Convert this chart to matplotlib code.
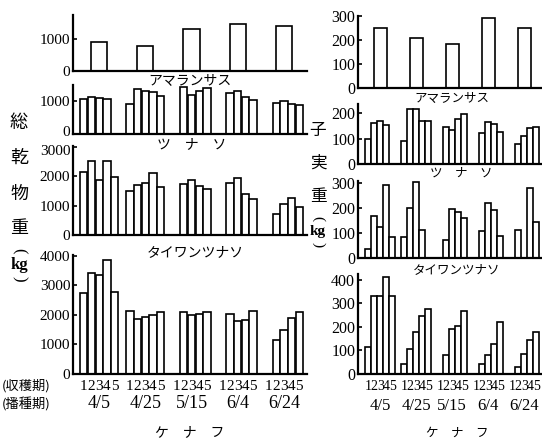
import matplotlib
matplotlib.use("Agg")
import matplotlib.pyplot as plt
from matplotlib.transforms import blended_transform_factory, ScaledTranslation

plt.rcParams['font.serif'] = ['Liberation Serif', 'DejaVu Serif']
plt.rcParams['font.family'] = ['serif', 'Noto Sans CJK JP']

# 播種期と収穫期
dates = ['4/5', '4/25', '5/15', '6/4', '6/24']
harvests = ['1', '2', '3', '4', '5']

# 総乾物重 (kg)
dry_amaranth = [905, 800, 1315, 1490, 1420]
dry_tsunaso = [[1040, 1120, 1090, 1040, None],
               [900, 1350, 1300, 1260, 1150],
               [None, 1420, 1170, 1300, 1370],
               [None, 1240, 1290, 1100, 1020],
               [None, 940, 1000, 890, 860]]
dry_taiwan = [[2130, 2525, 1870, 2525, 1980],
              [1505, 1700, 1755, 2120, 1620],
              [None, 1720, 1870, 1665, 1550],
              [None, 1780, 1930, 1395, 1225],
              [None, 710, 1050, 1250, 960]]
dry_kenaf = [[2735, 3410, 3340, 3835, 2780],
             [2140, 1855, 1910, 2000, 2090],
             [None, 2090, 1980, 2015, 2090],
             [None, 2035, 1790, 1820, 2115],
             [None, 1160, 1475, 1890, 2095]]

# 子実重 (kg)
seed_amaranth = [252, 210, 182, 293, 252]
seed_tsunaso = [[98, 163, 171, 154, None],
                [89, 217, 217, 171, 170],
                [None, 145, 135, 178, 197],
                [None, 122, 166, 159, 128],
                [None, 78, 112, 141, 147]]
seed_taiwan = [[36, 171, 124, 292, 85],
               [83, 202, 307, 112, None],
               [None, 71, 198, 186, 160],
               [None, 108, 222, 195, 90],
               [None, 112, None, 283, 145]]
seed_kenaf = [[115, 330, 330, 414, 330],
              [44, 106, 177, 245, 277],
              [None, 80, 190, 205, 268],
              [None, 44, 79, 129, 220],
              [None, 30, 86, 143, 177]]

W, H = 542, 438
fig = plt.figure(figsize=(W / 100, H / 100), dpi=100)


def make_ax(x0, x1, y0, y1):
    # ピクセル座標から軸を作る
    ax = fig.add_axes([x0 / W, 1 - y0 / H, (x1 - x0) / W, (y0 - y1) / H])
    for s in ['top', 'right']:
        ax.spines[s].set_visible(False)
    for s in ['left', 'bottom']:
        ax.spines[s].set_linewidth(1.6)
    ax.tick_params(axis='y', direction='in', length=3, width=1.2, pad=2)
    ax.tick_params(axis='x', length=0)
    ax.set_xticks([])
    return ax


def draw_groups(ax, data):
    for g, grp in enumerate(data):
        for s, v in enumerate(grp):
            if v is not None:
                ax.bar(g * 6 + s, v, width=0.95, color='white',
                       edgecolor='black', linewidth=1.2)


def draw_single(ax, data):
    for g, v in enumerate(data):
        ax.bar(g * 6 + 2, v, width=2.1, color='white',
               edgecolor='black', linewidth=1.2)


# 左列: 総乾物重, 右列: 子実重
left = [(71, 15, 1770, [0, 1000]),
        (134, 85, 1470, [0, 1000]),
        (235, 146, 3030, [0, 1000, 2000, 3000]),
        (374, 255, 4020, [0, 1000, 2000, 3000, 4000])]
right = [(88, 16, 300, [0, 100, 200, 300]),
         (164, 104, 237, [0, 100, 200]),
         (258, 181, 310, [0, 100, 200, 300]),
         (374, 274, 425, [0, 100, 200, 300, 400])]

laxes = []
for y0, y1, top, ticks in left:
    ax = make_ax(73, 307, y0, y1)
    ax.set_xlim(-1.4, 29)
    ax.set_ylim(0, top)
    ax.set_yticks(ticks)
    ax.tick_params(axis='y', labelsize=11)
    laxes.append(ax)

raxes = []
for y0, y1, top, ticks in right:
    ax = make_ax(358, 541, y0, y1)
    ax.set_xlim(-1.7, 28.8)
    ax.set_ylim(0, top)
    ax.set_yticks(ticks)
    ax.tick_params(axis='y', labelsize=11.5)
    raxes.append(ax)

# 近すぎる目盛ラベルを少しずらす
for lab, dy in [(laxes[1].get_yticklabels()[0], 2), (laxes[2].get_yticklabels()[-1], -2)]:
    lab.set_transform(lab.get_transform() + ScaledTranslation(0, dy / 72, fig.dpi_scale_trans))

draw_single(laxes[0], dry_amaranth)
draw_groups(laxes[1], dry_tsunaso)
draw_groups(laxes[2], dry_taiwan)
draw_groups(laxes[3], dry_kenaf)

draw_single(raxes[0], seed_amaranth)
draw_groups(raxes[1], seed_tsunaso)
draw_groups(raxes[2], seed_taiwan)
draw_groups(raxes[3], seed_kenaf)

# 収穫期の目盛
for ax, fs in [(laxes[3], 11), (raxes[3], 10)]:
    pos = [g * 6 + s for g in range(len(dates)) for s in range(len(harvests))]
    ax.set_xticks(pos)
    ax.set_xticklabels(harvests * len(dates), fontsize=fs)
    ax.tick_params(axis='x', length=0, pad=4)

# 播種期
for ax, y, fs in [(laxes[3], 404, 13), (raxes[3], 406, 12)]:
    tr = blended_transform_factory(ax.transData, fig.transFigure)
    for g, d in enumerate(dates):
        ax.text(g * 6 + 2, 1 - y / H, d, fontsize=fs, ha='center',
                va='center', transform=tr)


def ftext(x, y, s, fs, **kw):
    fig.text(x / W, 1 - y / H, s, fontsize=fs, ha='center', va='center', **kw)


jp = ['Noto Sans CJK JP']
# 作物名
ftext(190, 80, 'アマランサス', 10, family=jp)
ftext(192, 144, 'ツ\u3000ナ\u3000ソ', 10, family=jp)
ftext(195, 252, 'タイワンツナソ', 10, family=jp)
ftext(190, 432, 'ケ\u3000ナ\u3000フ', 10, family=jp)
ftext(452, 98, 'アマランサス', 9, family=jp)
ftext(461, 173, 'ツ\u3000ナ\u3000ソ', 9, family=jp)
ftext(457, 270, 'タイワンツナソ', 9, family=jp)
ftext(457, 433, 'ケ\u3000ナ\u3000フ', 9, family=jp)

fig.text(2 / W, 1 - 386 / H, '(収穫期)', fontsize=9.5, ha='left', va='center', family=jp)
fig.text(2 / W, 1 - 404 / H, '(播種期)', fontsize=9.5, ha='left', va='center', family=jp)

# 縦書きの軸ラベル
for ch, y in [('総', 123), ('乾', 158), ('物', 194), ('重', 228)]:
    ftext(19, y, ch, 13, family=jp)
for ch, y in [('子', 130), ('実', 163), ('重', 197)]:
    ftext(318, y, ch, 12, family=jp)
for x, y0, yk, y1, fs in [(19, 251, 265, 279, 12), (318, 219, 232, 245, 11)]:
    ftext(x, y0, '(', fs, rotation=-90)
    ftext(x, yk, 'kg', fs, fontweight='bold')
    ftext(x, y1, ')', fs, rotation=-90)

fig.savefig('out.png', dpi=100)
